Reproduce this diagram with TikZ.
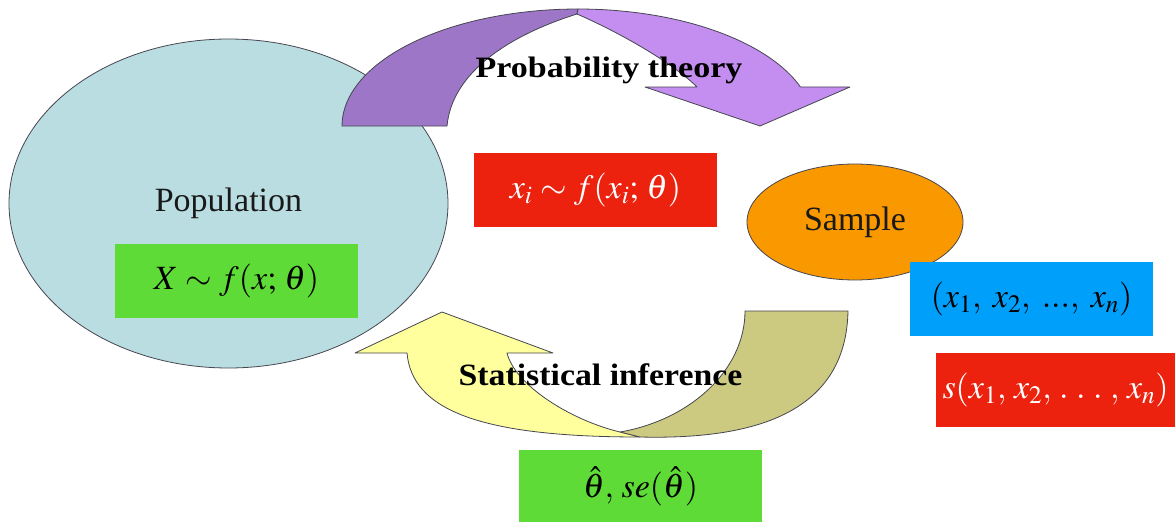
\documentclass[tikz,border=0pt]{standalone}
\usepackage{mathptmx}
\usepackage{fontspec}
\setmainfont{Liberation Serif}
\usetikzlibrary{shapes.geometric}
\definecolor{popfill}{RGB}{185,221,225}
\definecolor{purpleD}{RGB}{158,118,200}
\definecolor{purpleL}{RGB}{196,142,240}
\definecolor{yel}{RGB}{255,255,158}
\definecolor{oliv}{RGB}{204,202,128}
\definecolor{orng}{RGB}{250,152,0}
\definecolor{redb}{RGB}{236,33,14}
\definecolor{greenb}{RGB}{95,219,56}
\definecolor{blueb}{RGB}{0,160,250}
\definecolor{outc}{RGB}{70,70,80}
\definecolor{txt}{RGB}{25,25,25}
\begin{document}
\begin{tikzpicture}[x=1pt,y=-1pt,
  outl/.style={draw=outc, line width=0.8pt, line join=round},
  mbox/.style={inner sep=0pt, minimum width=243pt, minimum height=74pt, font=\fontsize{34}{40}\selectfont},
  oval/.style={ellipse, outl, inner sep=0pt, font=\fontsize{34}{40}\selectfont, text=txt},
  arrlbl/.style={anchor=base, inner sep=0pt, text=black}
]
\useasboundingbox (0,0) rectangle (1175,522);
% population
\node[oval, fill=popfill, minimum width=439pt, minimum height=329pt] (pop) at (228.5,203.5) {Population};
% probability arrow
\path[outl, fill=purpleD] plot[domain=180:270, samples=40] ({578+236*cos(\x)},{126+117*sin(\x)})
  -- (577,14) .. controls (510,35) and (452,72) .. (447,126) -- cycle;
\path[outl, fill=purpleL] plot[domain=270:340.5, samples=40] ({578+236*cos(\x)},{126+117*sin(\x)})
  -- (850,87) -- (760,126) -- (645,87) -- (697,87) .. controls (675,65) and (625,35) .. (577,14) -- cycle;
\node[arrlbl, font=\fontsize{29.6}{34}\selectfont\bfseries] (pt) at (609,77) {\scalebox{1.15}[1]{Probability theory}};
% inference arrow
\path[outl, fill=yel] (442,312) -- (355,353) -- (407,353) .. controls (412,410) and (480,437) .. (640,437)
  -- (620,432) .. controls (570,420) and (515,385) .. (507,353) -- (553,353) -- cycle;
\path[outl, fill=oliv] (745,311) -- (848,311) .. controls (846,410) and (760,440) .. (640,437)
  -- (620,432) .. controls (690,420) and (745,370) .. (745,311) -- cycle;
\node[arrlbl, font=\fontsize{31}{36}\selectfont\bfseries] (si) at (600.5,385) {\scalebox{1.09}[1]{Statistical inference}};
% sample
\node[oval, fill=orng, minimum width=216pt, minimum height=116pt] (sample) at (855,222) {Sample};
% boxes
\node[mbox, fill=redb, text=white] (xi) at (595.5,189.5) {$x_i \sim f(x_i;\,\theta)$};
\node[mbox, fill=greenb] (X) at (236.5,281) {$X \sim f(x;\,\theta)$};
\node[mbox, fill=blueb] (xs) at (1031.5,299) {$(x_1,\; x_2,\; {.}{.}{.},\; x_n)$};
\node[mbox, fill=redb, text=white, minimum width=239pt] (sx) at (1055.5,390) {$s(x_1,\, x_2,\, .\;.\;.\;,\, x_n)$};
\node[mbox, fill=greenb, minimum height=72pt] (th) at (640.5,486) {$\hat\theta,\, se(\hat\theta)$};
\end{tikzpicture}
\end{document}
